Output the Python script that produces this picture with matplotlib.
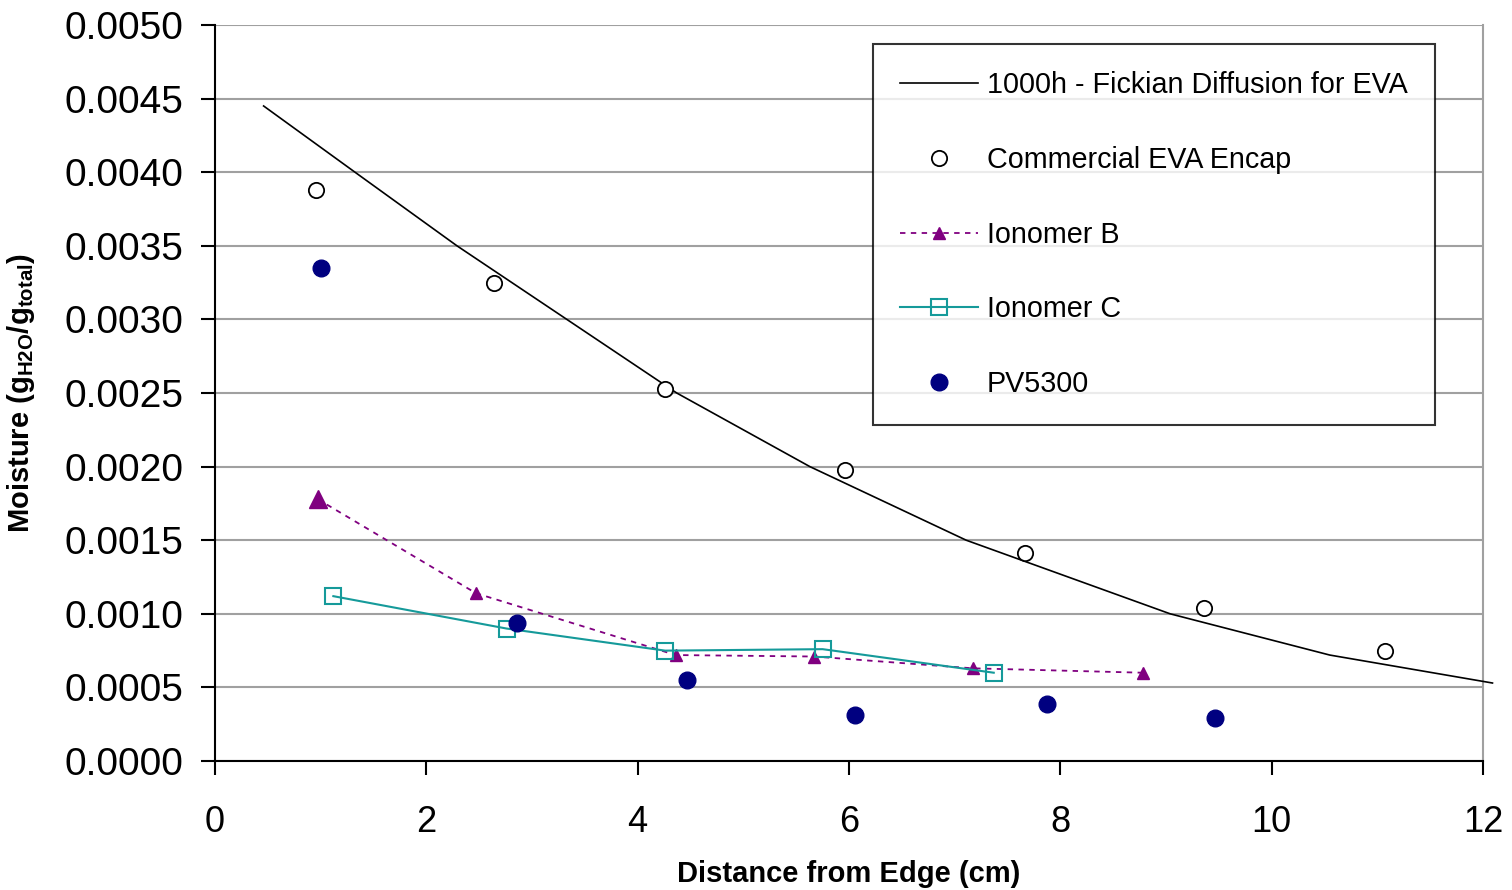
import matplotlib
matplotlib.use("Agg")
import matplotlib.pyplot as plt

plt.rcParams['font.family'] = ['Liberation Sans', 'DejaVu Sans']
plt.rcParams['mathtext.fontset'] = 'custom'
plt.rcParams['mathtext.rm'] = 'Liberation Sans'
plt.rcParams['mathtext.bf'] = 'Liberation Sans:bold'

# 1000h Fickian diffusion model curve
fick_x = [0.46, 1.325, 2.29, 3.33, 4.37, 5.63, 7.11, 9.04, 10.55, 12.09]
fick_y = [0.00445, 0.0040, 0.0035, 0.0030, 0.0025, 0.0020, 0.0015, 0.0010, 0.00072, 0.00053]

# Commercial EVA encapsulant
eva_x = [0.96, 2.64, 4.26, 5.96, 7.67, 9.36, 11.07]
eva_y = [0.00388, 0.00325, 0.002525, 0.00198, 0.00141, 0.00104, 0.00075]

# Ionomer B
ionb_x = [0.97, 2.47, 4.36, 5.67, 7.17, 8.78]
ionb_y = [0.00178, 0.00114, 0.00072, 0.00071, 0.00063, 0.00060]

# Ionomer C
ionc_x = [1.12, 2.76, 4.26, 5.75, 7.37]
ionc_y = [0.00112, 0.00090, 0.00075, 0.00076, 0.00060]

# PV5300
pv_x = [1.0, 2.86, 4.47, 6.06, 7.87, 9.46]
pv_y = [0.00335, 0.00094, 0.00055, 0.00031, 0.00039, 0.00029]

teal = '#159a9a'
purple = '#800080'
navy = '#000080'

fig = plt.figure(figsize=(15.12, 8.9), dpi=100)
ax = fig.add_axes([0.1422, 0.1449, 0.8386, 0.8270])

ax.plot(fick_x, fick_y, color='black', lw=1.2, label='1000h - Fickian Diffusion for EVA',
        clip_on=False, zorder=3)
ax.plot(eva_x, eva_y, ls='none', marker='o', ms=11, mfc='white', mec='black', mew=1.3,
        label='Commercial EVA Encap', zorder=4)
ax.plot(ionb_x, ionb_y, ls=(0, (3, 3)), lw=1.3, color=purple, marker='^', ms=9,
        mfc=purple, mec=purple, label='Ionomer B', zorder=4)
# first triangle is drawn bigger in the original
ax.plot(ionb_x[:1], ionb_y[:1], ls='none', marker='^', ms=13, color=purple, zorder=4)
ax.plot(ionc_x, ionc_y, ls='-', lw=1.5, color=teal, marker='s', ms=11, mfc='none',
        mec=teal, mew=1.5, label='Ionomer C', zorder=4)
ax.plot(pv_x, pv_y, ls='none', marker='o', ms=12, color=navy, label='PV5300', zorder=5)

ax.set_xlim(0, 12)
ax.set_ylim(0, 0.005)
ax.set_xticks(range(0, 13, 2))
ax.set_yticks([i * 0.0005 for i in range(11)])
ax.set_yticklabels(['%.4f' % (i * 0.0005) for i in range(11)])
ax.yaxis.grid(True, color='#a0a0a0', lw=1.5)
ax.set_axisbelow(True)

ax.spines['top'].set_visible(False)
ax.spines['right'].set_color('#a0a0a0')
ax.spines['right'].set_linewidth(1.5)
ax.spines['left'].set_linewidth(1.5)
ax.spines['bottom'].set_linewidth(1.5)
ax.tick_params(axis='y', length=10, width=1.5, pad=13, labelsize=28)
ax.tick_params(axis='x', length=10, width=1.5, pad=22, labelsize=26)

ax.set_xlabel('Distance from Edge (cm)', fontsize=21, fontweight='bold')
ax.xaxis.set_label_coords(0.5, -0.134)
ax.set_ylabel(r'Moisture (g$_{\mathregular{H2O}}$/g$_{\mathregular{total}}$)',
              fontsize=21, fontweight='bold')
ax.yaxis.set_label_coords(-0.14, 0.5)

leg = ax.legend(loc='upper left', bbox_to_anchor=(0.519, 0.974), borderaxespad=0,
                fontsize=20.7, frameon=True, fancybox=False, handlelength=2.7,
                handletextpad=0.3, labelspacing=1.62, borderpad=0.95)
leg.get_frame().set_edgecolor('black')
leg.get_frame().set_linewidth(1.5)

fig.savefig('out.png', dpi=100)
